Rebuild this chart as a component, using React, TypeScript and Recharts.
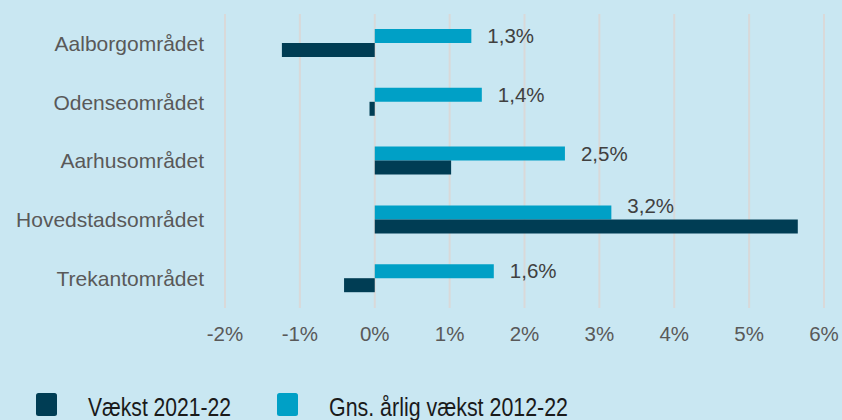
import React from 'react';
import { BarChart, Bar, XAxis, YAxis, CartesianGrid, LabelList } from 'recharts';

const categories = ['Aalborgområdet', 'Odenseområdet', 'Aarhusområdet', 'Hovedstadsområdet', 'Trekantområdet'];
const vaekst2122 = [-1.24, -0.07, 1.02, 5.65, -0.41];
const gnsVaekst1222 = [1.29, 1.43, 2.54, 3.16, 1.59];
const xTicks = [-2, -1, 0, 1, 2, 3, 4, 5, 6];
const seriesNames = { short: 'Vækst 2021-22', long: 'Gns. årlig vækst 2012-22' };

const DARK = '#003D54';
const LIGHT = '#00A0C6';
const BG = '#C9E7F2';
const FONT = "'Liberation Sans', Arial, sans-serif";

const data = categories.map((c, i) => ({ name: c, short: vaekst2122[i], long: gnsVaekst1222[i] }));

const legendItems = [
  { name: seriesNames.short, color: DARK, x: 36, textX: 88, len: 143 },
  { name: seriesNames.long, color: LIGHT, x: 277, textX: 329, len: 239 },
];

const fmtPct = (v: number) => v.toFixed(1).replace('.', ',') + '%';

function LegendSvg() {
  return (
    <g>
      {legendItems.map((it) => (
        <g key={it.name}>
          <rect x={it.x} y={393} width={21} height={23} rx={2.5} fill={it.color} />
          <text
            x={it.textX}
            y={416}
            fontFamily={FONT}
            fontSize={25}
            fill="#1a1a1a"
            textLength={it.len}
            lengthAdjust="spacingAndGlyphs"
          >
            {it.name}
          </text>
        </g>
      ))}
    </g>
  );
}

function ValueLabel(props: any) {
  const { x, y, width, height, value, index } = props;
  const xe = Number(x) + Number(width);
  const lx = xe + 16;
  // if the other bar of the same category reaches beyond the label start, lift label above it
  const other = vaekst2122[index];
  const lift = other > gnsVaekst1222[index] ? 7 : 0;
  const cy = Number(y) + Number(height) / 2 - lift;
  return (
    <text x={lx} y={cy} dy="0.355em" fill="#404040" fontSize={20.5} fontFamily={FONT} textAnchor="start">
      {fmtPct(Number(value))}
    </text>
  );
}

export default function App() {
  return (
    <div style={{ position: 'absolute', left: 0, top: 0, width: 842, height: 420, background: BG }}>
      <BarChart
        width={842}
        height={420}
        data={data}
        layout="vertical"
        margin={{ top: 14, right: 18, left: 0, bottom: 82 }}
        barGap={0}
        barSize={14}
      >
        <CartesianGrid horizontal={false} vertical={true} stroke="#D9D9D9" strokeWidth={2} />
        <XAxis
          type="number"
          domain={[-2, 6]}
          ticks={xTicks}
          tickFormatter={(v: number) => `${v}%`}
          axisLine={false}
          tickLine={false}
          tickSize={6}
          tickMargin={12}
          height={30}
          tick={{ fill: '#595959', fontSize: 20.5, fontFamily: FONT }}
          interval={0}
        />
        <YAxis
          type="category"
          dataKey="name"
          width={225}
          axisLine={false}
          tickLine={false}
          tickSize={6}
          tickMargin={15}
          tick={{ fill: '#595959', fontSize: 21, fontFamily: FONT }}
          interval={0}
        />
        <Bar dataKey="long" name={seriesNames.long} fill={LIGHT} isAnimationActive={false}>
          <LabelList dataKey="long" content={<ValueLabel />} />
        </Bar>
        <Bar dataKey="short" name={seriesNames.short} fill={DARK} isAnimationActive={false} />
        <LegendSvg />
      </BarChart>
    </div>
  );
}
